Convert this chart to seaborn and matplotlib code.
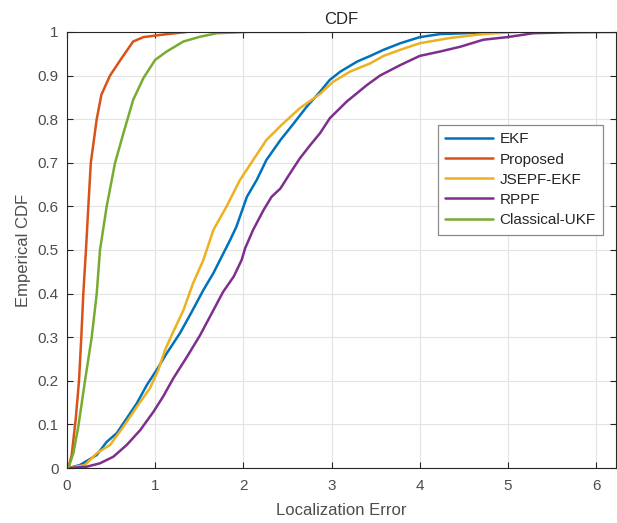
import pandas as pd
import matplotlib.pyplot as plt
import seaborn as sns

ekf_x = [0.015, 0.147, 0.337, 0.45, 0.564, 0.677, 0.79, 0.904, 1.017, 1.13, 1.28, 1.414,
         1.546, 1.66, 1.735, 1.85, 1.92, 2.04, 2.15, 2.26, 2.42, 2.57, 2.72, 2.87, 2.98,
         3.10, 3.29, 3.44, 3.59, 3.78, 4.00, 4.23, 4.95]
ekf_y = [0.0, 0.007, 0.03, 0.06, 0.08, 0.114, 0.148, 0.19, 0.225, 0.263, 0.309, 0.358,
         0.408, 0.447, 0.477, 0.523, 0.553, 0.622, 0.66, 0.706, 0.752, 0.79, 0.829, 0.863, 0.89,
         0.909, 0.932, 0.945, 0.959, 0.974, 0.988, 0.995, 1.0]

proposed_x = [0.015, 0.053, 0.10, 0.136, 0.162, 0.185, 0.208, 0.215, 0.242, 0.27, 0.337,
              0.39, 0.488, 0.62, 0.75, 0.866, 1.055, 1.36]
proposed_y = [0.0, 0.03, 0.115, 0.2, 0.3, 0.4, 0.477, 0.5, 0.6, 0.7, 0.8,
              0.856, 0.9, 0.94, 0.978, 0.988, 0.993, 1.0]

jsepf_x = [0.015, 0.204, 0.337, 0.488, 0.64, 0.79, 0.94, 1.036, 1.11, 1.206, 1.32, 1.43,
           1.546, 1.66, 1.81, 1.96, 2.11, 2.26, 2.45, 2.64, 2.87, 3.02, 3.21, 3.44, 3.59,
           3.78, 4.00, 4.34, 4.72, 5.10]
jsepf_y = [0.0, 0.007, 0.034, 0.053, 0.095, 0.14, 0.183, 0.225, 0.27, 0.313, 0.362, 0.424,
           0.477, 0.546, 0.6, 0.66, 0.706, 0.752, 0.79, 0.825, 0.858, 0.886, 0.909, 0.928, 0.945,
           0.959, 0.974, 0.986, 0.995, 1.0]

rppf_x = [0.015, 0.22, 0.374, 0.525, 0.677, 0.83, 0.98, 1.09, 1.206, 1.36, 1.51, 1.66, 1.77,
          1.89, 1.98, 2.02, 2.11, 2.23, 2.32, 2.42, 2.53, 2.64, 2.76, 2.87, 2.98, 3.17,
          3.40, 3.55, 3.78, 4.00, 4.23, 4.46, 4.72, 4.99, 5.29, 5.67, 6.22]
rppf_y = [0.0, 0.003, 0.011, 0.026, 0.053, 0.087, 0.129, 0.164, 0.206, 0.255, 0.305, 0.362, 0.404,
          0.439, 0.477, 0.504, 0.546, 0.592, 0.622, 0.641, 0.676, 0.71, 0.741, 0.768, 0.802, 0.84,
          0.878, 0.90, 0.924, 0.945, 0.955, 0.966, 0.982, 0.988, 0.997, 0.999, 1.0]

ukf_x = [0.015, 0.072, 0.128, 0.204, 0.28, 0.337, 0.374, 0.45, 0.544, 0.64, 0.75, 0.866,
         1.0, 1.13, 1.32, 1.51, 1.70, 2.07, 2.70]
ukf_y = [0.0, 0.034, 0.095, 0.2, 0.3, 0.4, 0.5, 0.6, 0.699, 0.768, 0.844, 0.894,
         0.936, 0.955, 0.978, 0.989, 0.997, 1.0, 1.0]

methods = ["EKF", "Proposed", "JSEPF-EKF", "RPPF", "Classical-UKF"]
colors = ["#0072BD", "#D95319", "#EDB120", "#7E2F8E", "#77AC30"]

frames = []
for name, xs, ys in zip(methods,
                        [ekf_x, proposed_x, jsepf_x, rppf_x, ukf_x],
                        [ekf_y, proposed_y, jsepf_y, rppf_y, ukf_y]):
    frames.append(pd.DataFrame({"err": xs, "cdf": ys, "method": name}))
df = pd.concat(frames, ignore_index=True)

sns.set_style("whitegrid")
plt.rcParams["font.family"] = ["Liberation Sans", "DejaVu Sans"]

fig = plt.figure(figsize=(6.17, 5.23), dpi=100)
ax = fig.add_axes([0.1086, 0.105, 0.889, 0.834])

sns.lineplot(data=df, x="err", y="cdf", hue="method", hue_order=methods,
             palette=colors, sort=False, estimator=None, units="method",
             linewidth=1.8, ax=ax)

ax.set_xlim(0, 6.22)
ax.set_ylim(0, 1)
ax.set_xticks(range(7))
ax.set_yticks([i / 10 for i in range(11)])
ax.set_yticklabels(["0"] + [f"{i / 10:g}" for i in range(1, 10)] + ["1"])
ax.grid(True, color="#e3e3e3", linewidth=0.8)
for s in ax.spines.values():
    s.set_visible(True)
    s.set_color("#262626")
    s.set_linewidth(0.8)
ax.tick_params(direction="in", length=4, width=0.8, colors="#262626",
               labelcolor="#4d4d4d", labelsize=11, top=True, right=True,
               bottom=True, left=True)
ax.tick_params(axis="x", pad=8)
ax.tick_params(axis="y", pad=6)
ax.set_xlabel("Localization Error", fontsize=12, color="#4d4d4d", labelpad=7)
ax.set_ylabel("Emperical CDF", fontsize=12, color="#4d4d4d", labelpad=5)
ax.set_title("CDF", fontsize=12, color="#262626", pad=6)

leg = ax.legend(loc="upper left", bbox_to_anchor=(0.676, 0.787), fontsize=11,
                frameon=True, fancybox=False, framealpha=1, edgecolor="#8a8a8a",
                handlelength=3.1, borderpad=0.5, labelspacing=0.4, handletextpad=0.45,
                borderaxespad=0)
leg.get_frame().set_linewidth(0.9)
for t in leg.get_texts():
    t.set_color("#262626")

fig.savefig("out.png", dpi=100)
